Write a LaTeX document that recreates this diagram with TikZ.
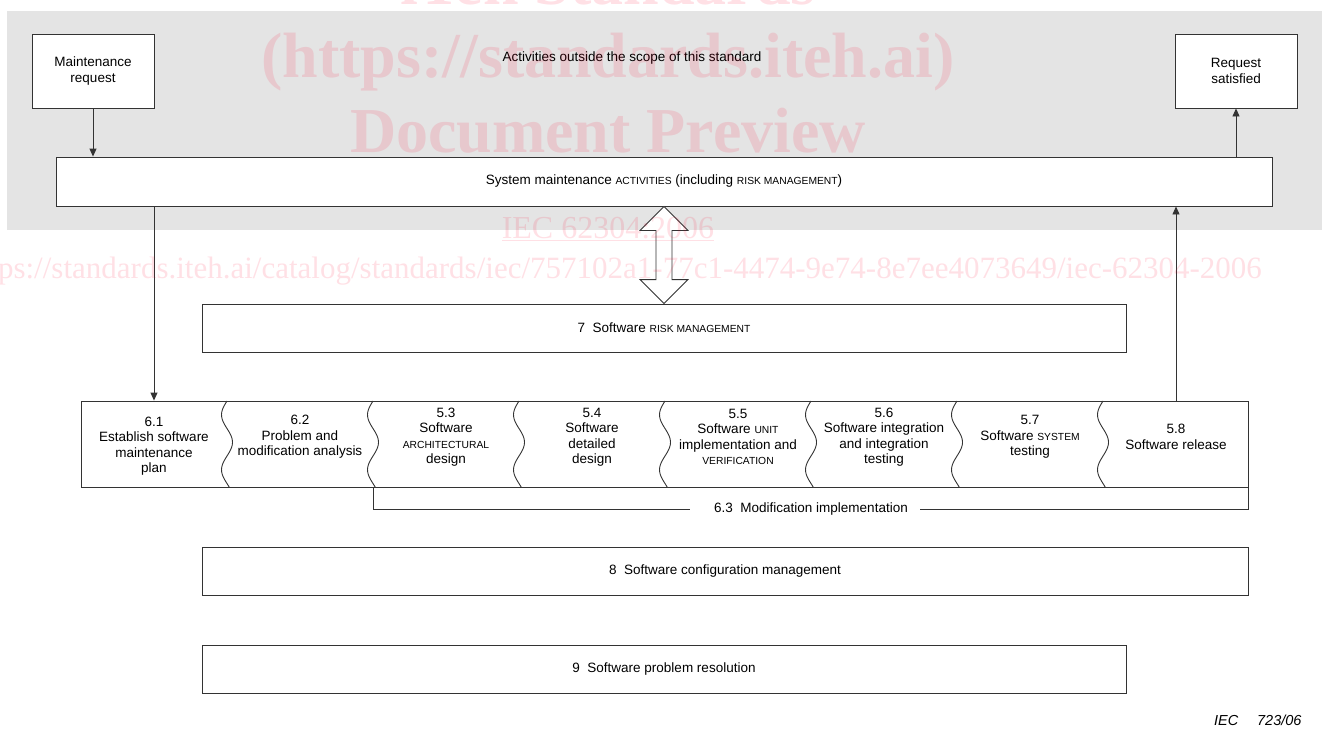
\documentclass[tikz,border=0pt]{standalone}
\usepackage{fontspec}
\setmainfont{Liberation Sans}
\newfontfamily\wmfont{Liberation Serif}
\usetikzlibrary{arrows.meta, calc}

\newcommand{\smc}[1]{{\fontsize{10.3}{12}\selectfont #1}}
\definecolor{scopegray}{HTML}{E4E4E4}
\definecolor{wmred}{rgb}{1,0,0.17}

\tikzset{
  box/.style={draw=black!80, line width=0.9pt, fill=white, inner sep=0pt},
  line/.style={draw=black!80, line width=0.9pt},
  flow/.style={line, -{Triangle[length=8pt, width=7pt]}},
  phase/.style={align=center, inner sep=0pt},
  wmark/.style={text=wmred, text opacity=0.12, inner sep=0pt, anchor=base}
}

\begin{document}
\begin{tikzpicture}[x=1pt, y=-1pt, font=\fontsize{13.5}{15.5}\selectfont]
\clip (0,0) rectangle (1327,729);

% outside the scope
\fill[scopegray] (7,11) rectangle (1322,230);
\node (outside) at (632,58) {Activities outside the scope of this standard};

\node[box, minimum width=122pt, minimum height=74pt, align=center] (mreq) at (93,71) {Maintenance\\request};
\node[box, minimum width=122pt, minimum height=74pt, align=center] (rsat) at (1236,71) {Request\\satisfied};
\node[box, minimum width=1216pt, minimum height=49pt] (sys) at (664,181.5) {System maintenance \smc{ACTIVITIES} (including \smc{RISK MANAGEMENT})};

\node[box, minimum width=924pt, minimum height=48pt] (risk) at (664,328) {7~~Software \smc{RISK MANAGEMENT}};

% maintenance process strip
\node[box, minimum width=1167pt, minimum height=86pt] (strip) at (664.5,444) {};
\foreach \k in {1,...,7}
  \draw[line] plot[domain=0:86, samples=40, smooth] ({81+146*\k-5.5*sin(6.545*\x)}, {401+\x});

\node[phase] (p61) at (154,446) {6.1\\Establish software\\maintenance\\plan};
\node[phase] (p62) at (300,437) {6.2\\Problem and\\modification analysis};
\node[phase] (p53) at (446,437) {5.3\\Software\\\smc{ARCHITECTURAL}\\design};
\node[phase] (p54) at (592,437) {5.4\\Software\\detailed\\design};
\node[phase] (p55) at (738,437) {5.5\\Software \smc{UNIT}\\implementation and\\\smc{VERIFICATION}};
\node[phase] (p56) at (884,437) {5.6\\Software integration\\and integration\\testing};
\node[phase] (p57) at (1030,437) {5.7\\Software \smc{SYSTEM}\\testing};
\node[phase] (p58) at (1176,437) {5.8\\Software release};

% modification implementation bracket
\coordinate (impl) at (373,487);
\node[inner sep=0pt] (mod) at (811,509) {6.3~~Modification implementation};
\draw[line] (impl) |- ([xshift=-24pt]mod.west);
\draw[line] ([xshift=12pt]mod.east) -| (strip.south east);

\node[box, minimum width=1046pt, minimum height=48pt] (scm) at (725,571) {8~~Software configuration management};
\node[box, minimum width=924pt, minimum height=48pt] (prob) at (664,669) {9~~Software problem resolution};

\node[anchor=east, font=\fontsize{14.5}{16}\selectfont\itshape] (fig) at (1305,720) {IEC\hspace{1.3em}723/06};

% connectors
\draw[flow] (mreq.south) -- (mreq.south |- sys.north);
\draw[flow] (sys.north -| rsat) -- (rsat.south);
\draw[flow] (sys.south -| p61) -- (p61 |- strip.north);
\draw[flow] (p58 |- strip.north) -- (p58 |- sys.south);
\draw[line, fill=white] (sys.south) -- ++(24,24) -- ++(-16,0) -- ($(risk.north)+(8,-24)$) -- ++(16,0)
  -- (risk.north) -- ++(-24,-24) -- ++(16,0) -- ($(sys.south)+(-8,24)$) -- ++(-16,0) -- cycle;

% watermark
\node[wmark, font=\wmfont\fontsize{64}{70}\selectfont\bfseries] (wm1) at (608,4) {iTeh Standards};
\node[wmark, font=\wmfont\fontsize{64}{70}\selectfont\bfseries] (wm2) at (608,77) {(https://standards.iteh.ai)};
\node[wmark, font=\wmfont\fontsize{64}{70}\selectfont\bfseries] (wm3) at (608,152) {Document Preview};
\node[wmark, font=\wmfont\fontsize{32}{36}\selectfont] (wm4) at (608,238) {\underline{IEC 62304:2006}};
\node[wmark, anchor=base east, font=\wmfont\fontsize{31}{36}\selectfont] (wm5) at (1262,278) {https://standards.iteh.ai/catalog/standards/iec/757102a1-77c1-4474-9e74-8e7ee4073649/iec-62304-2006};
\end{tikzpicture}
\end{document}
